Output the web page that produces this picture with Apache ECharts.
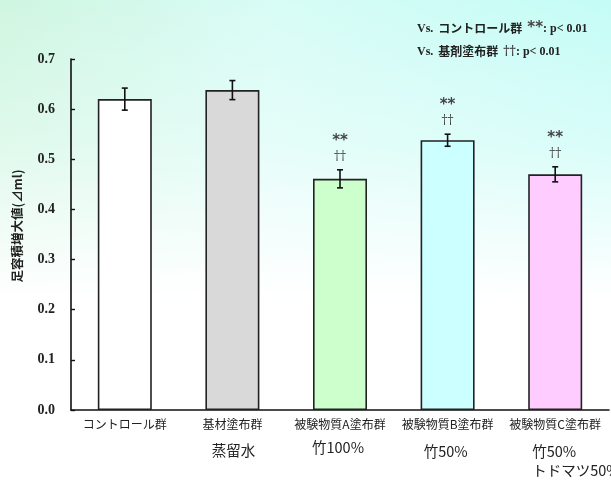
<!DOCTYPE html>
<html>
<head>
<meta charset="utf-8">
<script src="https://cdn.jsdelivr.net/npm/echarts@6/dist/echarts.min.js"></script>
<style>
  html, body { margin: 0; padding: 0; }
  #chart {
    width: 611px; height: 482px;
    background:
      linear-gradient(to bottom, rgba(255,255,255,0) 0%, rgba(255,255,255,0.35) 30%, #ffffff 62%),
      linear-gradient(to right, #cff6e1 0%, #d8fcf6 45%, #c5fcf6 100%);
  }
</style>
</head>
<body>
<div id="chart"></div>
<script>
// Foot volume increase per group (mean ± SE)
const categories = ['コントロール群', '基材塗布群', '被験物質A塗布群', '被験物質B塗布群', '被験物質C塗布群'];
const subLabels = ['', '蒸留水', '竹100%', '竹50%', '竹50%\nトドマツ50%'];
const means = [0.62, 0.638, 0.461, 0.538, 0.470];
const errors = [0.022, 0.019, 0.018, 0.012, 0.015];
const vsControl = ['', '', '**', '**', '**'];
const vsVehicle = ['', '', '††', '††', '††'];
const barColors = ['#ffffff', '#d9d9d9', '#ccffcc', '#ccffff', '#ffccff'];
const yTicks = [0, 0.1, 0.2, 0.3, 0.4, 0.5, 0.6, 0.7];

// Placement of the sub-captions under each category label (pixel offsets from the bar foot)
const subLabelStyle = [
  null,
  { dx: 1, dy: 31, align: 'center' },
  { dx: -2, dy: 28, align: 'center' },
  { dx: -2, dy: 32, align: 'center' },
  { dx: -23, dy: 32, align: 'left' }
];

const chart = echarts.init(document.getElementById('chart'), null, { renderer: 'canvas' });

const barData = means.map((v, i) => ({
  value: v,
  itemStyle: { color: barColors[i] }
}));
const errData = means.map((v, i) => [i, v, errors[i]]);

function renderErr(params, api) {
  const i = params.dataIndex;
  const x = api.value(0), m = api.value(1), e = api.value(2);
  const top = api.coord([x, m + e]);
  const bot = api.coord([x, m - e]);
  const cap = 3;
  const lineStyle = { stroke: '#111', lineWidth: 1.6 };
  const children = [
    { type: 'line', shape: { x1: top[0], y1: top[1], x2: bot[0], y2: bot[1] }, style: lineStyle },
    { type: 'line', shape: { x1: top[0] - cap, y1: top[1], x2: top[0] + cap, y2: top[1] }, style: lineStyle },
    { type: 'line', shape: { x1: bot[0] - cap, y1: bot[1], x2: bot[0] + cap, y2: bot[1] }, style: lineStyle }
  ];
  if (vsControl[i]) {
    children.push({
      type: 'text',
      style: { text: vsControl[i], x: top[0], y: top[1] - 29, align: 'center', verticalAlign: 'middle',
        fill: '#444', font: 'bold 15px "DejaVu Sans"' }
    });
  }
  if (vsVehicle[i]) {
    children.push({
      type: 'text',
      style: { text: vsVehicle[i], x: top[0], y: top[1] - 13, align: 'center', verticalAlign: 'middle',
        fill: '#444', font: '12px "DejaVu Serif"' }
    });
  }
  const s = subLabelStyle[i];
  if (subLabels[i] && s) {
    const base = api.coord([x, 0]);
    children.push({
      type: 'text',
      style: { text: subLabels[i], x: base[0] + s.dx, y: base[1] + s.dy, align: s.align, verticalAlign: 'top',
        fill: '#222', font: '14.5px "Noto Sans CJK JP"', lineHeight: 19 }
    });
  }
  return { type: 'group', children: children };
}

chart.setOption({
  backgroundColor: 'transparent',
  animation: false,
  title: {
    left: 412, top: 12,
    text: '{v|Vs.} {j|コントロール群} {s|**}{v|: p< 0.01}\n{v|Vs.} {j|基剤塗布群} {d|††}{v|: p< 0.01}',
    textStyle: {
      lineHeight: 23,
      rich: {
        v: { fontFamily: 'Liberation Serif', fontWeight: 'bold', fontSize: 12, color: '#222', lineHeight: 23 },
        j: { fontFamily: 'Noto Sans CJK JP', fontWeight: 'bold', fontSize: 12, color: '#222', lineHeight: 23 },
        s: { fontFamily: 'DejaVu Sans', fontWeight: 'bold', fontSize: 15, color: '#444', lineHeight: 23 },
        d: { fontFamily: 'DejaVu Serif', fontSize: 12, color: '#444', lineHeight: 23 }
      }
    }
  },
  grid: { left: 71, right: 2, top: 59, bottom: 72 },
  xAxis: {
    type: 'category', data: categories,
    axisLine: { lineStyle: { color: '#111', width: 1.6 } },
    axisTick: { show: false },
    axisLabel: { margin: 8, fontSize: 12, color: '#222', fontFamily: 'Noto Sans CJK JP', interval: 0 }
  },
  yAxis: {
    type: 'value', min: yTicks[0], max: yTicks[yTicks.length - 1], interval: 0.1,
    name: '足容積増大値(⊿ml)', nameLocation: 'middle', nameGap: 47,
    nameTextStyle: { fontFamily: 'Noto Sans CJK JP', fontWeight: 'bold', fontSize: 12.5, color: '#222',
      padding: [0, 0, 0, 17] },
    axisLine: { show: true, lineStyle: { color: '#111', width: 1.6 } },
    axisTick: { show: true, inside: true, length: 4, lineStyle: { color: '#111', width: 1.4 } },
    axisLabel: { margin: 16, fontFamily: 'Liberation Serif', fontWeight: 'bold', fontSize: 14, color: '#222',
      formatter: v => v.toFixed(1) },
    splitLine: { show: false }
  },
  series: [
    {
      type: 'bar', data: barData, barWidth: 54,
      itemStyle: { borderColor: '#222', borderWidth: 1.6 }
    },
    {
      type: 'custom', data: errData, renderItem: renderErr, z: 5, clip: false
    }
  ]
});
</script>
</body>
</html>
